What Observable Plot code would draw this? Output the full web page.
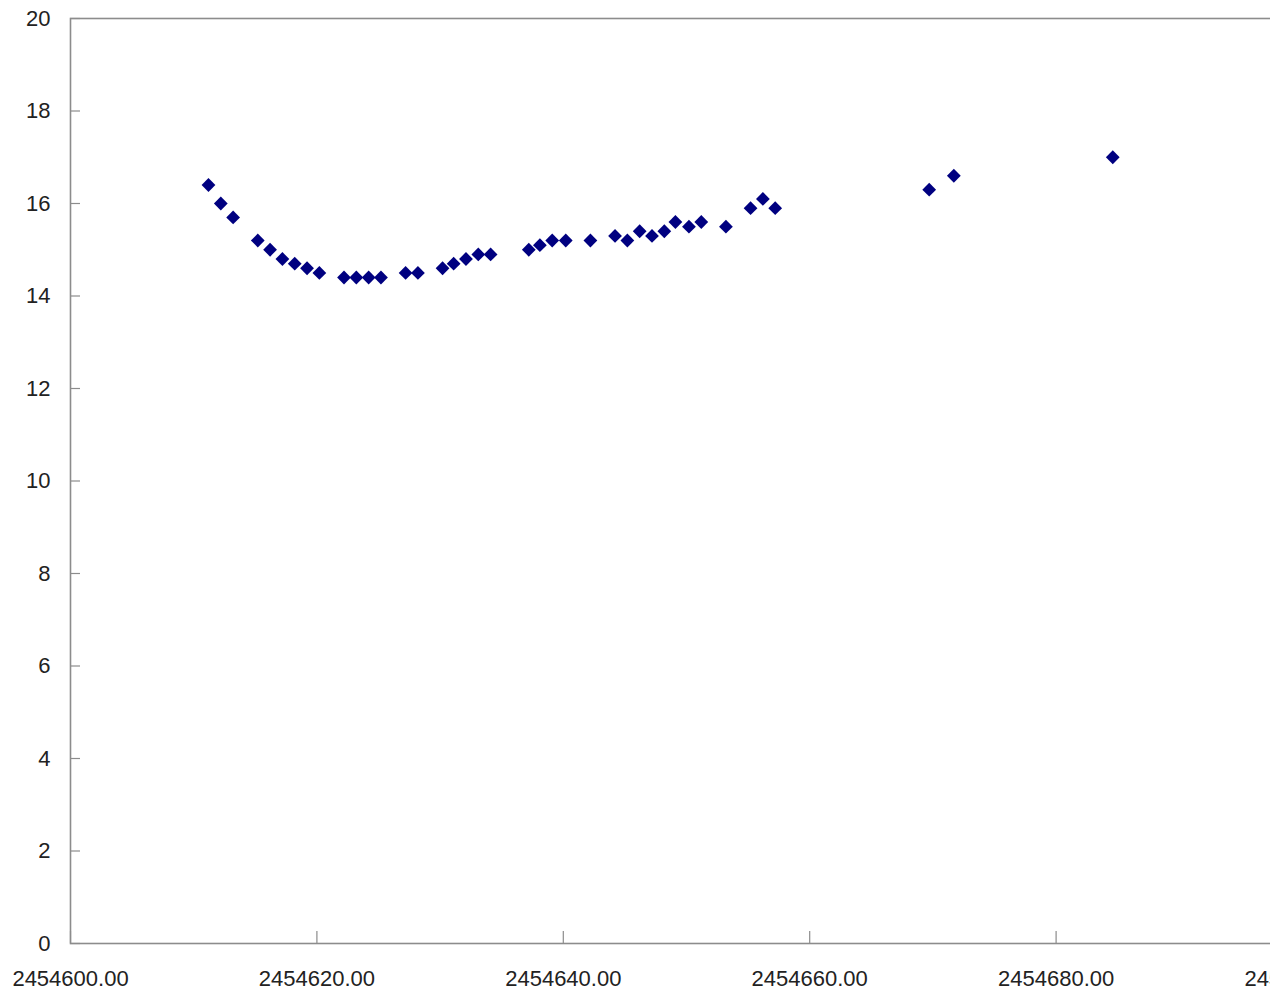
<!DOCTYPE html>
<html>
<head>
<meta charset="utf-8">
<script src="https://cdn.jsdelivr.net/npm/d3@7"></script>
<script src="https://cdn.jsdelivr.net/npm/@observablehq/plot@0.6"></script>
<style>
  html, body { margin: 0; padding: 0; background: #fff; overflow: hidden; }
  #chart { width: 1270px; height: 996px; overflow: hidden; }
  #chart svg { display: block; max-width: none !important; }
</style>
</head>
<body>
<div id="chart"></div>
<script>
const days = [2454611.2, 2454612.2, 2454613.2, 2454615.2, 2454616.2, 2454617.2, 2454618.2, 2454619.2, 2454620.2,
  2454622.2, 2454623.2, 2454624.2, 2454625.2, 2454627.2, 2454628.2, 2454630.2, 2454631.1, 2454632.1,
  2454633.1, 2454634.1, 2454637.2, 2454638.1, 2454639.1, 2454640.2, 2454642.2, 2454644.2, 2454645.2,
  2454646.2, 2454647.2, 2454648.2, 2454649.1, 2454650.2, 2454651.2, 2454653.2, 2454655.2, 2454656.2,
  2454657.2, 2454669.7, 2454671.7, 2454684.6];
const values = [16.4, 16.0, 15.7, 15.2, 15.0, 14.8, 14.7, 14.6, 14.5,
  14.4, 14.4, 14.4, 14.4, 14.5, 14.5, 14.6, 14.7, 14.8,
  14.9, 14.9, 15.0, 15.1, 15.2, 15.2, 15.2, 15.3, 15.2,
  15.4, 15.3, 15.4, 15.6, 15.5, 15.6, 15.5, 15.9, 16.1,
  15.9, 16.3, 16.6, 17.0];
const xTicks = [2454600, 2454620, 2454640, 2454660, 2454680, 2454700];
const yTicks = [0, 2, 4, 6, 8, 10, 12, 14, 16, 18, 20];

const data = days.map((d, i) => ({day: d, value: values[i]}));

const width = 1320, height = 996;
const marginLeft = 70, marginRight = 18, marginTop = 18, marginBottom = 53;
const plotW = width - marginLeft - marginRight;
const plotH = height - marginTop - marginBottom;

const chart = Plot.plot({
  width, height, marginLeft, marginRight, marginTop, marginBottom,
  style: {fontFamily: "'Liberation Sans', Arial, sans-serif", fontSize: "22px", color: "#222", background: "#fff", maxWidth: "none"},
  x: {domain: [2454600, 2454700], ticks: xTicks, tickFormat: d3.format(".2f"), label: null, tickSize: 0, tickPadding: 27},
  y: {domain: [0, 20], ticks: yTicks, tickFormat: d3.format("d"), label: null, tickSize: 0, tickPadding: 20},
  marks: [
    Plot.frame({stroke: "#8c8c8c", strokeWidth: 1.6}),
    Plot.tickY(yTicks, {y: d => d, insetRight: plotW - 10, stroke: "#8c8c8c", strokeWidth: 1.2}),
    Plot.tickX(xTicks, {x: d => d, insetTop: plotH - 12, stroke: "#8c8c8c", strokeWidth: 1.2}),
    Plot.dot(data, {x: "day", y: "value", symbol: "diamond2", r: 6.2, fill: "#000080", stroke: "none"})
  ]
});
chart.style.maxWidth = "none";
document.getElementById("chart").appendChild(chart);
</script>
</body>
</html>
